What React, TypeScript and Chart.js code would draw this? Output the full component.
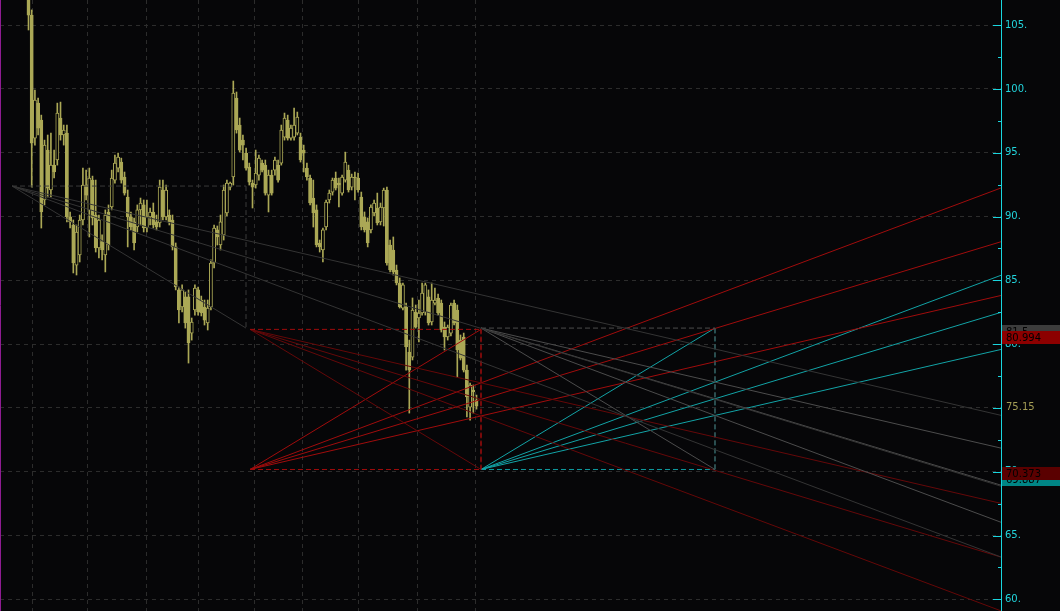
import { useEffect, useRef } from 'react';
import { Chart, registerables } from 'chart.js';

Chart.register(...registerables);

// ---- price data (one bar per session) ----
const opens = [
  107.75, 105.79, 96.15, 98.89, 97.56, 91.30, 95.21, 92.08, 94.03, 94.43, 97.72, 96.39, 96.54, 89.97, 89.34, 86.20,
  86.99, 89.73, 92.47, 90.52, 92.86, 90.12, 87.54, 88.01, 86.99, 90.36, 90.75, 92.86, 93.80, 94.27, 93.10, 91.53,
  89.97, 89.58, 89.18, 90.52, 90.91, 89.10, 89.97, 90.36, 89.58, 89.50, 92.08, 89.97, 90.12, 89.73, 87.62, 84.25,
  82.91, 83.70, 83.70, 80.87, 82.68, 84.25, 83.46, 82.91, 81.66, 82.91, 86.36, 88.95, 87.77, 88.56, 90.28, 92.31,
  93.10, 99.29, 97.17, 95.99, 94.97, 93.88, 92.62, 92.47, 93.25, 94.19, 94.03, 91.68, 93.25, 93.64, 94.03, 94.19,
  96.23, 97.56, 96.15, 96.23, 96.54, 96.23, 95.21, 93.80, 93.02, 91.45, 90.52, 87.93, 87.38, 89.18, 91.30, 91.92,
  93.02, 92.62, 91.84, 92.86, 93.64, 92.31, 93.10, 93.02, 91.53, 89.97, 89.58, 88.95, 90.28, 90.67, 89.58, 90.67,
  92.08, 87.77, 87.38,
  85.81, 84.79, 82.83, 82.91, 79.38, 78.99, 82.52, 82.05, 82.44, 82.52, 83.70, 81.74, 83.22, 83.62, 83.22, 81.34,
  80.56, 80.87, 83.22, 82.68, 80.32, 80.56, 77.97, 75.07, 76.41, 75.62,
];
const highs = [
  109.32, 106.19, 99.92, 99.29, 97.95, 95.99, 96.39, 96.54, 95.21, 98.89, 98.97, 97.17, 97.17, 90.36, 89.73, 89.34,
  90.12, 93.80, 93.64, 93.80, 93.17, 92.86, 90.12, 88.56, 90.52, 90.91, 93.64, 94.82, 94.97, 94.58, 93.49, 92.08,
  90.36, 89.89, 90.91, 91.45, 91.30, 91.30, 90.67, 91.06, 90.12, 92.86, 92.86, 92.47, 90.52, 90.12, 87.93, 84.48,
  84.64, 84.09, 84.25, 82.05, 84.64, 84.48, 83.77, 83.46, 83.46, 86.60, 89.34, 89.26, 90.12, 92.47, 92.86, 92.70,
  100.62, 99.76, 97.72, 96.39, 95.37, 94.19, 92.86, 95.21, 94.82, 94.43, 94.43, 93.64, 93.64, 94.66, 94.43, 97.17,
  98.11, 97.95, 97.17, 98.50, 98.19, 96.54, 95.60, 94.19, 93.25, 92.86, 90.91, 88.16, 89.10, 91.30, 92.08, 93.02,
  93.49, 93.02, 93.25, 95.05, 94.03, 93.33, 93.49, 93.41, 91.92, 90.36, 89.89, 90.91, 91.30, 91.84, 91.06, 92.23,
  92.31, 88.16, 88.40,
  86.20, 85.19, 84.79, 83.22, 80.32, 83.62, 83.07, 83.46, 84.79, 84.79, 84.25, 84.79, 84.40, 83.93, 83.46, 81.74,
  81.50, 83.22, 83.46, 83.07, 80.72, 80.87, 78.36, 76.95, 76.80, 76.01,
];
const lows = [
  104.62, 92.31, 95.60, 96.39, 89.10, 90.91, 91.53, 91.53, 93.02, 94.03, 95.99, 95.60, 89.58, 89.10, 85.58, 85.42,
  86.44, 89.34, 91.30, 88.40, 89.34, 87.22, 86.75, 86.60, 85.66, 87.38, 90.52, 92.62, 93.49, 92.62, 91.68, 87.62,
  88.95, 87.38, 88.79, 89.34, 88.79, 88.79, 89.34, 89.10, 88.95, 89.18, 89.73, 89.73, 89.34, 87.38, 84.25, 81.66,
  82.52, 81.26, 78.52, 80.32, 82.28, 82.28, 82.21, 81.50, 81.11, 82.68, 85.97, 87.77, 87.38, 88.16, 90.05, 92.08,
  92.47, 96.54, 95.05, 94.43, 93.64, 92.47, 90.67, 92.23, 92.86, 93.49, 91.68, 90.36, 91.68, 93.25, 92.70, 94.03,
  95.99, 95.99, 95.99, 95.99, 96.39, 94.27, 93.49, 92.86, 90.91, 89.18, 87.62, 87.22, 86.44, 88.95, 91.06, 91.68,
  92.08, 90.75, 91.68, 92.70, 91.92, 92.08, 91.30, 91.92, 88.95, 88.79, 87.62, 88.71, 90.05, 89.34, 89.34, 89.26,
  86.20, 85.66, 85.42,
  84.64, 82.83, 82.68, 77.97, 74.60, 78.76, 81.26, 80.17, 82.28, 82.28, 81.50, 81.50, 83.07, 82.28, 80.95, 79.54,
  80.32, 80.64, 81.50, 77.43, 78.76, 77.82, 74.29, 74.05, 74.60, 74.91,
];
const closes = [
  105.79, 95.76, 99.13, 96.93, 90.36, 95.60, 92.23, 94.03, 93.49, 98.11, 96.39, 96.78, 89.97, 89.58, 86.36, 88.79,
  89.73, 92.47, 91.68, 93.02, 89.89, 87.54, 89.73, 87.38, 90.12, 87.77, 93.02, 94.19, 94.66, 92.86, 91.84, 89.97,
  89.18, 87.93, 90.52, 91.06, 89.10, 89.97, 90.36, 89.34, 89.18, 92.31, 89.97, 92.08, 89.58, 87.62, 84.48, 82.68,
  84.25, 81.66, 80.09, 81.74, 84.40, 82.52, 82.44, 81.89, 82.83, 86.36, 89.10, 88.40, 89.58, 92.08, 92.62, 92.62,
  99.68, 96.78, 95.21, 95.60, 93.80, 92.70, 92.31, 93.41, 94.58, 93.64, 91.84, 93.25, 91.84, 94.43, 92.86, 96.78,
  97.72, 96.15, 96.93, 97.17, 97.80, 94.43, 94.97, 93.10, 91.06, 90.28, 87.77, 87.62, 88.95, 91.14, 91.84, 92.86,
  92.23, 92.47, 93.10, 94.27, 92.08, 93.10, 93.02, 92.08, 89.18, 88.95, 87.93, 90.75, 91.06, 89.50, 90.75, 92.08,
  86.36, 85.81, 85.66,
  84.79, 82.91, 84.64, 79.78, 77.97, 82.68, 81.34, 82.44, 84.01, 84.64, 81.66, 83.46, 83.46, 82.44, 81.11, 80.56,
  81.34, 83.07, 81.66, 79.54, 78.91, 77.97, 75.86, 76.80, 76.25, 75.15,
];

// ---- axes ----
const priceTicks = [60, 65, 70, 75, 80, 85, 90, 95, 100, 105];
const minorPriceTicks = [62.5, 67.5, 72.5, 77.5, 82.5, 87.5, 92.5, 97.5, 102.5];
const periodSeparators = [1.4, 18.3, 37, 53, 70.5, 85.5, 103, 121.7, 139.8];
const Y_MIN = 59.09;
const Y_MAX = 106.97;
const X_MIN = -8.91;
const X_MAX = 303.91;

// ---- Fibonacci fans: [origin bar, origin price], [corner bar, corner price] ----
const fanLevels = [0.382, 0.5, 0.618];
const fanGrayWide = [[-5.16, 92.39], [67.97, 81.26]];
const fanGrayRight = [[141.41, 81.26], [214.53, 70.18]];
const fanRedDown = [[69.22, 81.16], [141.41, 70.18]];
const fanRedUp = [[69.22, 70.18], [141.41, 81.16]];
const fanCyanUp = [[141.41, 70.18], [214.53, 81.26]];
const startMarkerBar = -8.75;

// ---- price labels on the scale ----
const upperLabels = [81.5, 80.994];
const lowerLabels = [69.887, 70.373];
const lastPrice = 75.15;

const BG = '#060608';
const GRID = '#2c2c2c';
const AXIS = '#19d6df';
const CANDLE = '#aba856';
const FONT = 'DejaVu Sans';

type Pt = number[];

function segment(points: Pt[], color: string, dash: number[]) {
  return {
    type: 'line' as const,
    data: points.map(([x, y]) => ({ x, y })),
    borderColor: color,
    borderWidth: 1,
    borderDash: dash,
    pointRadius: 0,
    pointHoverRadius: 0,
    fill: false,
    tension: 0,
    order: 0,
  };
}

function fanDatasets(fan: Pt[], lineColor: string, boxColor: string) {
  const [[x0, p0], [x1, p1]] = fan;
  const out: any[] = [
    segment([[x0, p0], [x1, p0]], boxColor, [5, 3]),
    segment([[x1, p0], [x1, p1]], boxColor, [5, 3]),
    segment([[x0, p0], [x1, p1]], lineColor, []),
  ];
  for (const r of fanLevels) {
    const slope = ((p1 - p0) * r) / (x1 - x0);
    out.push(segment([[x0, p0], [X_MAX, p0 + slope * (X_MAX - x0)]], lineColor, []));
  }
  return out;
}

const terminalDecor = {
  id: 'terminalDecor',
  beforeDraw(chart: any) {
    const { ctx } = chart;
    ctx.save();
    ctx.fillStyle = BG;
    ctx.fillRect(0, 0, chart.width, chart.height);
    ctx.restore();
  },
  afterDraw(chart: any) {
    const { ctx, chartArea } = chart;
    const ys = chart.scales.y;
    const right = chartArea.right;
    ctx.save();
    // tick marks pointing into the plot
    ctx.strokeStyle = AXIS;
    ctx.lineWidth = 1;
    const mark = (v: number, len: number) => {
      const py = Math.round(ys.getPixelForValue(v)) + 0.5;
      ctx.beginPath();
      ctx.moveTo(right - len, py);
      ctx.lineTo(right, py);
      ctx.stroke();
    };
    priceTicks.forEach((v) => mark(v, 8));
    minorPriceTicks.forEach((v) => mark(v, 3));

    ctx.font = `10px "${FONT}"`;
    ctx.textBaseline = 'middle';
    ctx.textAlign = 'left';
    const tag = (v: number, fill: string) => {
      const top = Math.round(ys.getPixelForValue(v));
      ctx.fillStyle = fill;
      ctx.fillRect(right + 1, top, chart.width - right - 1, 13);
      ctx.fillStyle = '#000000';
      ctx.fillText(String(v), right + 5, top + 7);
    };
    tag(upperLabels[0], '#3c3c3c');
    tag(upperLabels[1], '#8c0000');
    tag(lowerLabels[0], '#008585');
    tag(lowerLabels[1], '#5a0000');

    const cy = Math.round(ys.getPixelForValue(lastPrice));
    ctx.fillStyle = BG;
    ctx.fillRect(right + 1, cy - 6, chart.width - right - 1, 13);
    ctx.fillStyle = '#a39c55';
    ctx.fillText(String(lastPrice), right + 5, cy + 1);
    ctx.restore();
  },
};

export default function App() {
  const ref = useRef<HTMLCanvasElement>(null);

  useEffect(() => {
    const bull = (i: number) => closes[i] > opens[i];
    const bodies = {
      type: 'bar' as const,
      data: opens.map((o, i) => ({ x: i, y: [Math.min(o, closes[i]), Math.max(o, closes[i])] })),
      backgroundColor: (c: any) => (bull(c.dataIndex) ? BG : CANDLE),
      borderColor: CANDLE,
      borderWidth: 1,
      borderSkipped: false,
      barThickness: 3.2,
      grouped: false,
      order: 1,
    };
    const wicks = {
      type: 'bar' as const,
      data: lows.map((l, i) => ({ x: i, y: [l, highs[i]] })),
      backgroundColor: CANDLE,
      borderWidth: 0,
      barThickness: 1,
      grouped: false,
      order: 2,
    };

    const datasets: any[] = [
      bodies,
      wicks,
      segment([[startMarkerBar, Y_MIN], [startMarkerBar, Y_MAX]], '#8e1c92', []),
      ...fanDatasets(fanGrayWide, '#343434', '#3a3a3a'),
      ...fanDatasets(fanGrayRight, '#4c4c4c', '#4c4c4c'),
      ...fanDatasets(fanRedDown, '#650808', '#a00c0c'),
      ...fanDatasets(fanRedUp, '#a00c0c', '#a00c0c'),
      ...fanDatasets(fanCyanUp, '#12a3a6', '#0f9ca0'),
    ];

    const chart = new Chart(ref.current as HTMLCanvasElement, {
      type: 'bar',
      data: { datasets },
      options: {
        animation: false,
        responsive: false,
        devicePixelRatio: 1,
        events: [],
        layout: { padding: 0 },
        plugins: { legend: { display: false }, tooltip: { enabled: false } },
        scales: {
          x: {
            type: 'linear',
            min: X_MIN,
            max: X_MAX,
            offset: false,
            afterBuildTicks: (s: any) => {
              s.ticks = periodSeparators.map((v) => ({ value: v }));
            },
            afterFit: (s: any) => {
              s.height = 0;
            },
            ticks: { display: false },
            grid: { color: GRID, drawTicks: false, lineWidth: 1, offset: false },
            border: { display: false, dash: [4, 4] },
          },
          y: {
            type: 'linear',
            position: 'right',
            min: Y_MIN,
            max: Y_MAX,
            afterBuildTicks: (s: any) => {
              s.ticks = priceTicks.map((v) => ({ value: v }));
            },
            afterFit: (s: any) => {
              s.width = 59;
              s.paddingTop = 0;
              s.paddingBottom = 0;
            },
            grid: { color: GRID, drawTicks: false, lineWidth: 1, offset: false },
            border: { display: true, color: AXIS, width: 1, dash: [4, 4] },
            ticks: {
              color: '#22d4dc',
              padding: 4,
              font: { family: FONT, size: 10 },
              callback: (v: any) => `${v}.`,
            },
          },
        },
      },
      plugins: [terminalDecor],
    } as any);

    return () => chart.destroy();
  }, []);

  return (
    <div style={{ position: 'fixed', left: 0, top: 0, width: 1060, height: 611, background: BG }}>
      <canvas ref={ref} width={1060} height={611} style={{ display: 'block' }} />
    </div>
  );
}
